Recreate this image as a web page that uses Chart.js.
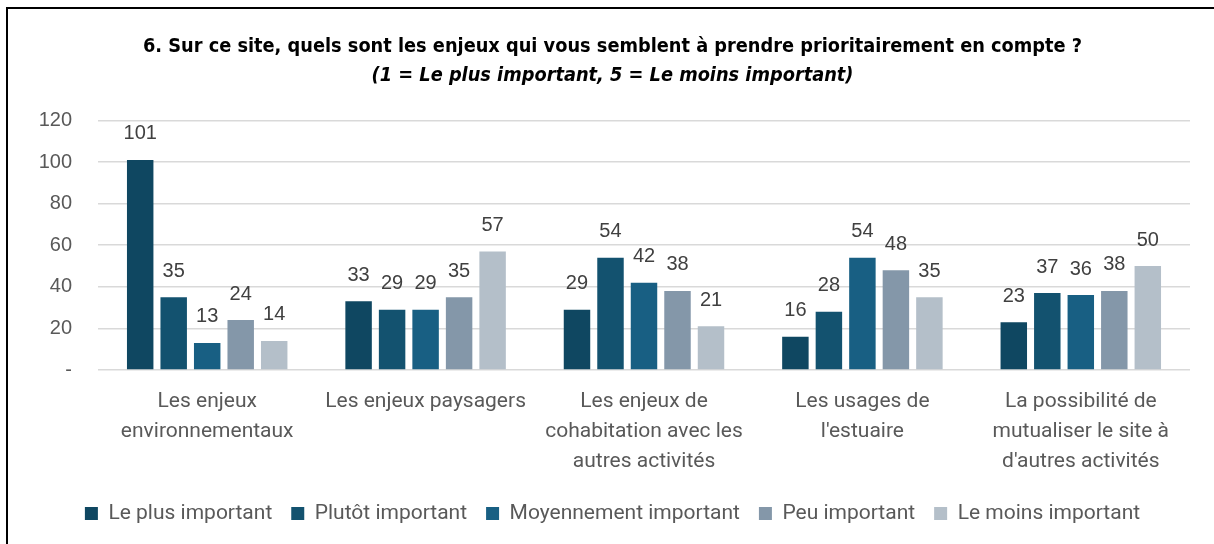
<!DOCTYPE html>
<html>
<head>
<meta charset="utf-8">
<script src="https://cdn.jsdelivr.net/npm/chart.js@4.4.1/dist/chart.umd.min.js"></script>
<style>
  html, body { margin: 0; padding: 0; background: #ffffff; }
  #wrap { position: relative; width: 1214px; height: 544px; overflow: hidden; }
  #c { position: absolute; left: 0; top: 0; }
  .frameTop { position: absolute; left: 6px; top: 7px; width: 1208px; height: 2px; background: #000; }
  .frameLeft { position: absolute; left: 6px; top: 7px; width: 2px; height: 537px; background: #000; }
</style>
</head>
<body>
<div id="wrap">
  <canvas id="c" width="1214" height="544"></canvas>
  <div class="frameTop"></div>
  <div class="frameLeft"></div>
</div>
<script>
const titleLine1 = "6. Sur ce site, quels sont les enjeux qui vous semblent à prendre prioritairement en compte ?";
const titleLine2 = "(1 = Le plus important, 5 = Le moins important)";

const categories = [
  ["Les enjeux", "environnementaux"],
  ["Les enjeux paysagers"],
  ["Les enjeux de", "cohabitation avec les", "autres activités"],
  ["Les usages de", "l'estuaire"],
  ["La possibilité de", "mutualiser le site à", "d'autres activités"]
];

const seriesNames = ["Le plus important", "Plutôt important", "Moyennement important", "Peu important", "Le moins important"];

const lePlusImportant      = [101, 33, 29, 16, 23];
const plutotImportant      = [35, 29, 54, 28, 37];
const moyennementImportant = [13, 29, 42, 54, 36];
const peuImportant         = [24, 35, 38, 48, 38];
const leMoinsImportant     = [14, 57, 21, 35, 50];

const yTicks = [0, 20, 40, 60, 80, 100, 120];

const seriesColors = ["#0f4761", "#13526f", "#185f83", "#8497a9", "#b4bfc9"];
const seriesValues = [lePlusImportant, plutotImportant, moyennementImportant, peuImportant, leMoinsImportant];

const valueLabels = {
  id: 'valueLabels',
  afterDatasetsDraw(chart) {
    const ctx = chart.ctx;
    ctx.save();
    ctx.font = '20px "Liberation Sans", Arial, sans-serif';
    ctx.fillStyle = '#404040';
    ctx.textAlign = 'center';
    ctx.textBaseline = 'middle';
    chart.data.datasets.forEach((ds, i) => {
      const meta = chart.getDatasetMeta(i);
      meta.data.forEach((bar, j) => {
        ctx.fillText(String(ds.data[j]), bar.x, bar.y - 26);
      });
    });
    ctx.restore();
  }
};

new Chart(document.getElementById('c'), {
  type: 'bar',
  data: {
    labels: categories,
    datasets: seriesNames.map((n, i) => ({
      label: n,
      data: seriesValues[i],
      backgroundColor: seriesColors[i],
      borderWidth: 0,
      categoryPercentage: 0.767,
      barPercentage: 0.79
    }))
  },
  options: {
    responsive: false,
    animation: false,
    devicePixelRatio: 1,
    layout: { padding: { left: 35, right: 24, top: 0, bottom: 10 } },
    plugins: {
      title: {
        display: true,
        text: titleLine1,
        color: '#000000',
        font: { family: '"DejaVu Sans Condensed", "Open Sans", sans-serif', size: 19.75, weight: 'bold', lineHeight: 1.2 },
        padding: { top: 35, bottom: 0 }
      },
      subtitle: {
        display: true,
        text: titleLine2,
        color: '#000000',
        font: { family: '"DejaVu Sans Condensed", "Open Sans", sans-serif', size: 19.75, weight: 'bold', style: 'italic', lineHeight: 1.2 },
        padding: { top: 5, bottom: 33 }
      },
      legend: {
        position: 'bottom',
        labels: {
          boxWidth: 13,
          boxHeight: 13,
          padding: 19,
          color: '#595959',
          font: { family: 'Roboto, "Noto Sans", sans-serif', size: 21 }
        }
      },
      tooltip: { enabled: false }
    },
    scales: {
      x: {
        grid: { display: false, drawTicks: false },
        border: { display: false },
        ticks: {
          color: '#595959',
          padding: 17,
          maxRotation: 0,
          autoSkip: false,
          font: { family: 'Roboto, "Noto Sans", sans-serif', size: 21, lineHeight: 1.43 }
        },
        afterFit(scale) { scale.height = 114; }
      },
      y: {
        min: 0,
        max: 120,
        afterBuildTicks(scale) { scale.ticks = yTicks.map(v => ({ value: v })); },
        grid: { color: '#d9d9d9', lineWidth: 1.5, drawTicks: false },
        border: { display: false },
        ticks: {
          color: '#595959',
          padding: 26,
          font: { family: '"Liberation Sans", Arial, sans-serif', size: 20 },
          callback: (v) => v === 0 ? '-' : String(v)
        },
        afterFit(scale) { scale.width = 63; }
      }
    }
  },
  plugins: [valueLabels]
});
</script>
</body>
</html>
